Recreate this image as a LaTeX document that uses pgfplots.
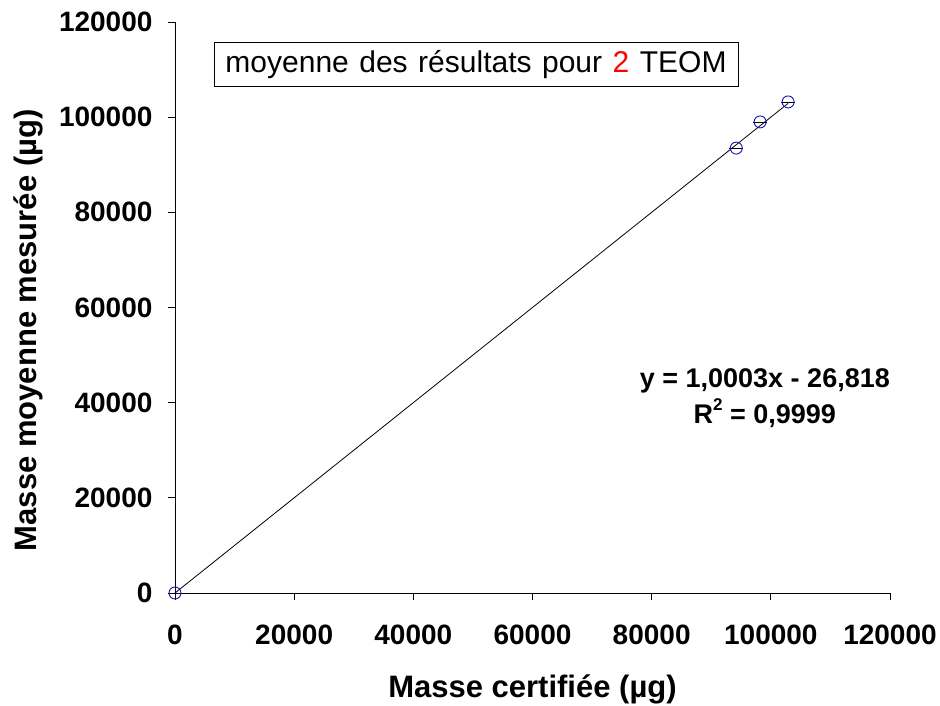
\documentclass[border=0pt]{standalone}
\usepackage{pgfplots}
\pgfplotsset{compat=1.18}
\usepackage{fontspec}
\setmainfont{Liberation Sans}
\definecolor{markblue}{RGB}{20,20,180}
\begin{document}
\begin{tikzpicture}
\useasboundingbox (-175pt,-113pt) rectangle (765pt,593pt);
\begin{axis}[
  at={(0,0)}, anchor=south west,
  scale only axis, width=715pt, height=571pt,
  xmin=0, xmax=120000, ymin=0, ymax=120000,
  axis x line*=bottom, axis y line*=left,
  xtick={0,20000,...,120000}, ytick={0,20000,...,120000},
  scaled ticks=false,
  xticklabel style={/pgf/number format/fixed, /pgf/number format/1000 sep={}, /pgf/number format/assume math mode=true, yshift=-21pt},
  yticklabel style={/pgf/number format/fixed, /pgf/number format/1000 sep={}, /pgf/number format/assume math mode=true, xshift=-12pt},
  tick align=outside, major tick length=7pt,
  tick style={black, line width=0.8pt},
  axis line style={black, line width=0.8pt},
  ticklabel style={font=\bfseries\fontsize{28}{28}\selectfont},
  xlabel={Masse certifiée (µg)},
  ylabel={Masse moyenne mesurée (µg)},
  label style={font=\bfseries\fontsize{31}{31}\selectfont},
  xlabel style={at={([yshift=-96pt]rel axis cs:0.5,0)}, anchor=center},
  ylabel style={at={([xshift=-147pt]rel axis cs:0,0.46)}, anchor=center},
  clip=false,
]
\addplot[black, line width=0.8pt, no marks] coordinates {(0,0) (102900,102904)};
\addplot[only marks, mark=o, mark size=6pt, color=markblue, mark options={line width=0.9pt},
  error bars/.cd, x dir=both, x explicit, error mark=none,
  error bar style={black, line width=0.7pt}]
  coordinates {(0,0) +- (0,0) (94200,93500) +- (1150,0) (98200,99000) +- (1150,0) (102900,103200) +- (1150,0)};
\node[draw, line width=0.8pt, minimum width=524pt, minimum height=44pt, inner sep=0pt,
  font=\fontsize{30}{30}\selectfont] at (rel axis cs:0.421,0.925)
  {\spaceskip=10.5pt moyenne des résultats pour \textcolor{red}{2} TEOM};
\node[font=\bfseries\fontsize{27}{27}\selectfont] at (rel axis cs:0.825,0.371) {y = 1,0003x - 26,818};
\node[font=\bfseries\fontsize{27}{27}\selectfont] at (rel axis cs:0.825,0.315) {R\raisebox{0.45em}{\fontsize{17}{17}\selectfont 2} = 0,9999};
\end{axis}
\end{tikzpicture}
\end{document}
